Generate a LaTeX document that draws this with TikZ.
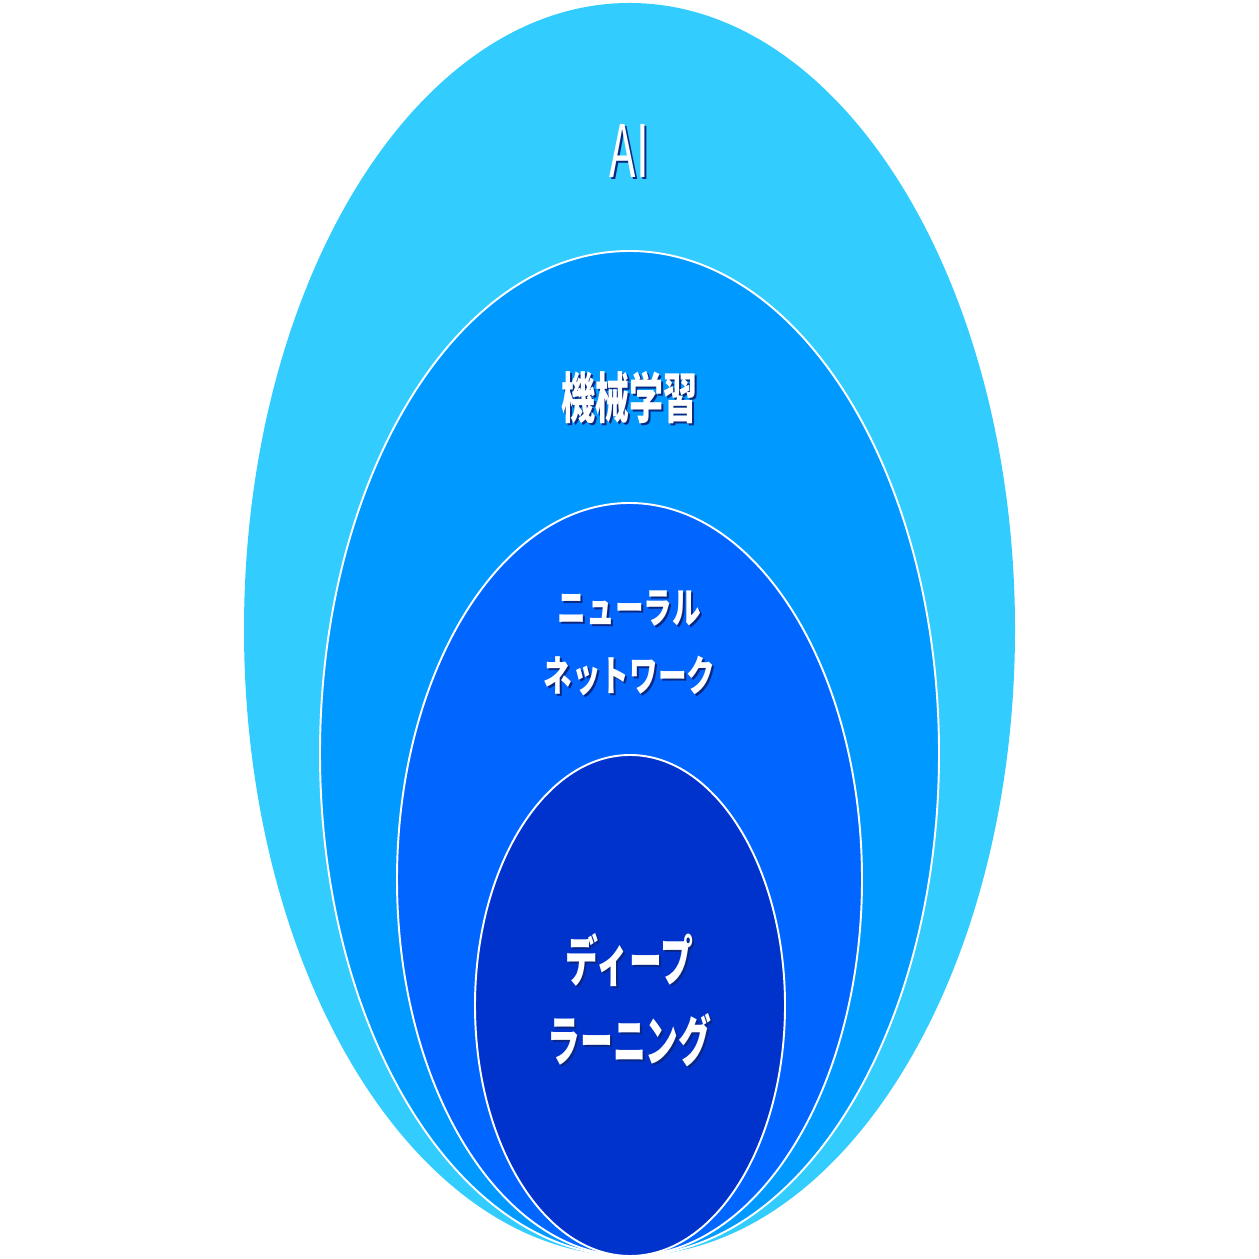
\documentclass[tikz,border=0pt]{standalone}
\usepackage{fontspec}
\newfontfamily\jp{Noto Sans CJK JP}
\definecolor{aiblue}{RGB}{51,204,255}
\definecolor{mlblue}{RGB}{0,153,255}
\definecolor{nnblue}{RGB}{0,102,255}
\definecolor{dlblue}{RGB}{0,51,204}
\definecolor{shade}{RGB}{10,40,130}
\tikzset{
  ring/.style={draw=white,line width=0.55pt},
  lbl/.style={text=white,align=center,inner sep=0pt},
  lblshadow/.style={text=shade,align=center,inner sep=0pt}
}
\newcommand{\sqz}[3]{\scalebox{#1}[1]{\jp\bfseries\fontsize{#2}{#2}\selectfont #3}}
\newcommand{\sqzthin}[3]{\scalebox{#1}[1]{\jp\fontsize{#2}{#2}\selectfont #3}}
\begin{document}
\begin{tikzpicture}
                \useasboundingbox (0,0) rectangle (12.59,12.59);
                % nested sets
                \fill[aiblue] (6.295,6.295) ellipse (3.855 and 6.265);
                \fill[mlblue,ring] (6.295,5.055) ellipse (3.095 and 5.025);
                \fill[nnblue,ring] (6.295,3.795) ellipse (2.325 and 3.765);
                \fill[dlblue,ring] (6.3,2.535) ellipse (1.55 and 2.505);
                % labels (shadow first)
                \node[lblshadow] (ai-s) at (6.315,11.06) {\sqzthin{0.6}{20.6pt}{AI}};
                \node[lbl] (ai) at (6.295,11.08) {\sqzthin{0.6}{20.6pt}{AI}};
                \node[lblshadow] (ml-s) at (6.315,8.59) {\sqz{0.62}{15.6pt}{機械学習}};
                \node[lbl] (ml) at (6.295,8.61) {\sqz{0.62}{15.6pt}{機械学習}};
                \node[lblshadow] (nn1-s) at (6.315,6.49) {\sqz{0.68}{12pt}{ニューラル}};
                \node[lbl] (nn1) at (6.295,6.51) {\sqz{0.68}{12pt}{ニューラル}};
                \node[lblshadow] (nn2-s) at (6.315,5.81) {\sqz{0.68}{12pt}{ネットワーク}};
                \node[lbl] (nn2) at (6.295,5.83) {\sqz{0.68}{12pt}{ネットワーク}};
                \node[lblshadow] (dl1-s) at (6.315,2.97) {\sqz{0.6}{15.6pt}{ディープ}};
                \node[lbl] (dl1) at (6.295,2.99) {\sqz{0.6}{15.6pt}{ディープ}};
                \node[lblshadow] (dl2-s) at (6.315,2.17) {\sqz{0.6}{15.6pt}{ラーニング}};
                \node[lbl] (dl2) at (6.295,2.19) {\sqz{0.6}{15.6pt}{ラーニング}};
\end{tikzpicture}
\end{document}
